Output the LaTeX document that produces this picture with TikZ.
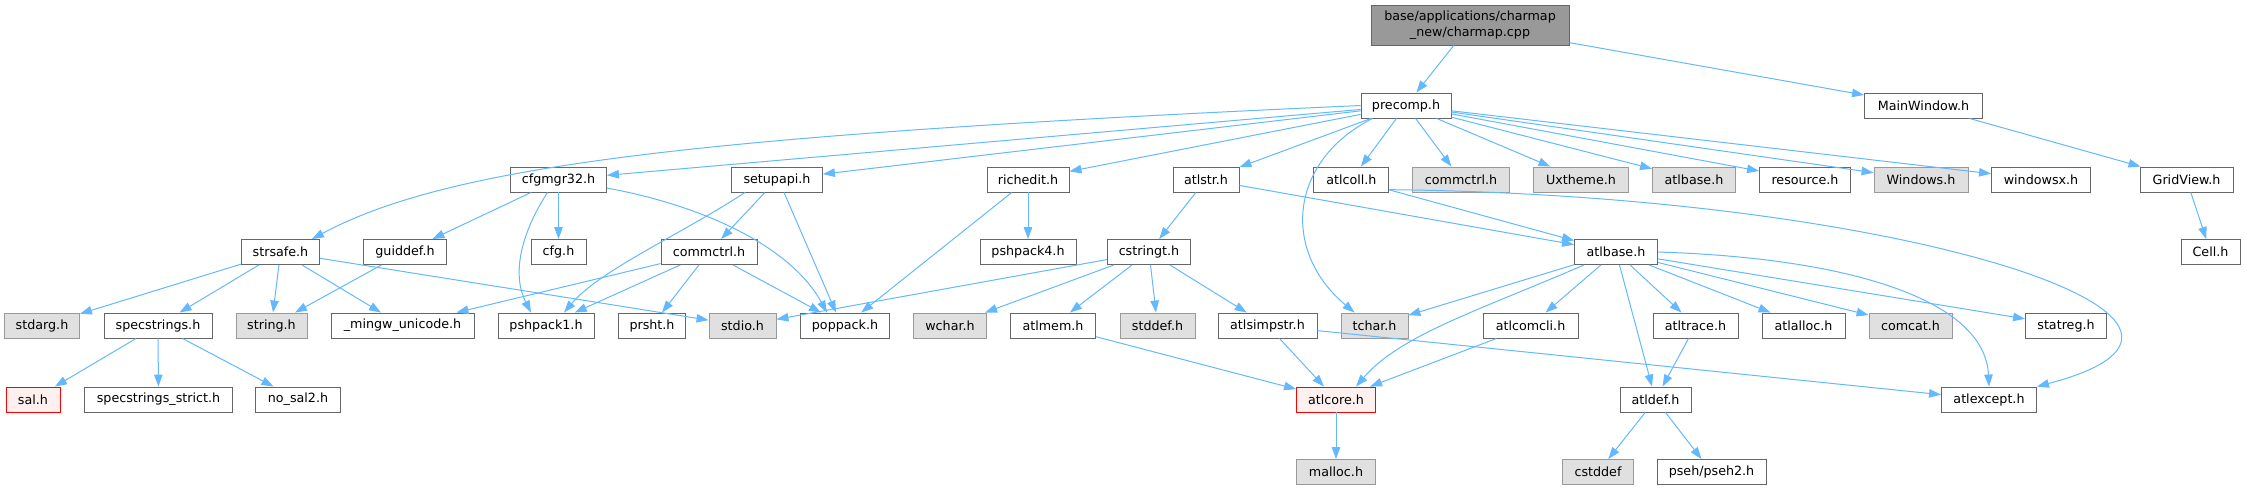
\documentclass[tikz,border=0pt]{standalone}
\usepackage{fontspec}
\setmainfont{DejaVu Sans}
\usetikzlibrary{arrows.meta}
\definecolor{incblue}{HTML}{63B8FF}
\definecolor{boxgray}{HTML}{666666}
\definecolor{extgray}{HTML}{999999}
\definecolor{extfill}{HTML}{E0E0E0}
\definecolor{cutfill}{HTML}{FFF0F0}
\begin{document}
\begin{tikzpicture}[x=1pt,y=-1pt,
		hfile/.style={draw=boxgray,fill=white,line width=0.9pt,minimum width=#1pt,minimum height=25pt,inner sep=0pt,font=\fontsize{12.7}{15.5}\selectfont},
		hext/.style={hfile=#1,draw=extgray,fill=extfill},
		hcut/.style={hfile=#1,draw=red,fill=cutfill},
		hroot/.style={hfile=#1,fill=extgray,minimum height=40pt,align=center},
		inc/.style={incblue,line width=1pt,-{Triangle[length=12pt,width=8.5pt]}}]
		\useasboundingbox (0,0) rectangle (2245,491);
		% rows 0 and 1
		\node[hroot=198] (charmap) at (1470,25) {base/applications/charmap\\\_new/charmap.cpp};
		\node[hfile=90] (precomp) at (1406,105.5) {precomp.h};
		\node[hfile=118] (mainwin) at (1923.5,105.5) {MainWindow.h};
		% row 2
		\node[hfile=96] (cfgmgr) at (558.5,179.5) {cfgmgr32.h};
		\node[hfile=91] (setupapi) at (777,179.5) {setupapi.h};
		\node[hfile=82] (richedit) at (1028,179.5) {richedit.h};
		\node[hfile=66] (atlstr) at (1206,179.5) {atlstr.h};
		\node[hfile=75] (atlcoll) at (1351.4,179.5) {atlcoll.h};
		\node[hext=96.5] (commctrlx) at (1461,179.5) {commctrl.h};
		\node[hext=95] (uxtheme) at (1581,179.5) {Uxtheme.h};
		\node[hext=83] (atlbasex) at (1694,179.5) {atlbase.h};
		\node[hfile=91] (resource) at (1805,179.5) {resource.h};
		\node[hext=94] (windowsh) at (1921,179.5) {Windows.h};
		\node[hfile=99] (windowsx) at (2041,179.5) {windowsx.h};
		\node[hfile=93] (gridview) at (2186.5,179.5) {GridView.h};
		% row 3
		\node[hfile=78] (strsafe) at (280.5,252) {strsafe.h};
		\node[hfile=83] (guiddef) at (405,252) {guiddef.h};
		\node[hfile=55] (cfg) at (558.5,252) {cfg.h};
		\node[hfile=96] (commctrl) at (709,252) {commctrl.h};
		\node[hfile=96] (pshfour) at (1028,252) {pshpack4.h};
		\node[hfile=83] (cstringt) at (1149,252) {cstringt.h};
		\node[hfile=83] (atlbase) at (1616,252) {atlbase.h};
		\node[hfile=59] (cell) at (2210.5,252) {Cell.h};
		% row 4
		\node[hext=75] (stdarg) at (42,325.5) {stdarg.h};
		\node[hfile=108] (specstr) at (158,325.5) {specstrings.h};
		\node[hext=71] (stringh) at (271.5,325.5) {string.h};
		\node[hfile=143] (mingw) at (402.5,325.5) {\_mingw\_unicode.h};
		\node[hfile=96] (pshone) at (546,325.5) {pshpack1.h};
		\node[hfile=67] (prsht) at (652,325.5) {prsht.h};
		\node[hext=67] (stdio) at (742.5,325.5) {stdio.h};
		\node[hfile=89] (poppack) at (845,325.5) {poppack.h};
		\node[hext=73] (wchar) at (950,325.5) {wchar.h};
		\node[hfile=85] (atlmem) at (1053,325.5) {atlmem.h};
		\node[hext=75] (stddef) at (1157.5,325.5) {stddef.h};
		\node[hfile=99] (simpstr) at (1267.5,325.5) {atlsimpstr.h};
		\node[hext=67] (tchar) at (1374.5,325.5) {tchar.h};
		\node[hfile=95] (comcli) at (1530.5,325.5) {atlcomcli.h};
		\node[hfile=85] (atltrace) at (1695.5,325.5) {atltrace.h};
		\node[hfile=83] (atlalloc) at (1803.5,325.5) {atlalloc.h};
		\node[hext=83] (comcat) at (1910.5,325.5) {comcat.h};
		\node[hfile=81] (statreg) at (2066,325.5) {statreg.h};
		% rows 5 and 6
		\node[hcut=54] (sal) at (33,399.5) {sal.h};
		\node[hfile=148] (strict) at (158.5,399.5) {specstrings\_strict.h};
		\node[hfile=85] (nosal) at (298,399.5) {no\_sal2.h};
		\node[hcut=79] (atlcore) at (1336,399.5) {atlcore.h};
		\node[hfile=71] (atldef) at (1655.5,399.5) {atldef.h};
		\node[hfile=95] (atlexcept) at (1989,399.5) {atlexcept.h};
		\node[hext=79] (malloc) at (1336,472) {malloc.h};
		\node[hext=71] (cstddef) at (1598,472) {cstddef};
		\node[hfile=109] (pseh) at (1711.5,472) {pseh/pseh2.h};

		\draw[inc] (charmap) -- (precomp);
		\draw[inc] (charmap) -- (mainwin);
		\draw[inc] (mainwin) -- (gridview);
		\draw[inc] (gridview) -- (cell);
		\path[inc] (precomp) edge (cfgmgr) edge (setupapi) edge (richedit) edge (atlstr) edge (atlcoll)
			edge (commctrlx) edge (uxtheme) edge (atlbasex) edge (resource) edge (windowsh) edge (windowsx);
		\draw[inc] (precomp.west) .. controls (700,135) and (450,165) .. ([xshift=-8pt]strsafe.north east);
		\draw[inc] ([xshift=12pt]precomp.south west) .. controls (1290,160) and (1280,250) .. ([xshift=-20pt]tchar.north);
		\path[inc] (cfgmgr) edge (guiddef) edge (cfg);
		\draw[inc] ([xshift=-11pt]cfgmgr.south) .. controls (520,235) and (512,275) .. ([xshift=-15pt]pshone.north);
		\draw[inc] (cfgmgr.-10) .. controls (700,205) and (790,245) .. ([xshift=-18pt]poppack.north);
		\draw[inc] (setupapi) -- (commctrl);
		\draw[inc] ([xshift=14pt]setupapi.south west) .. controls (680,235) and (600,270) .. ([xshift=18pt]pshone.north);
		\draw[inc] ([xshift=7pt]setupapi.south) -- ([xshift=-9pt]poppack.north);
		\path[inc] (richedit) edge (pshfour) edge (poppack);
		\path[inc] (atlstr) edge (cstringt) edge (atlbase);
		\draw[inc] (atlcoll) -- (atlbase);
		\draw[inc] (atlcoll.-15) .. controls (1900,195) and (2290,320) .. (atlexcept.north east);
		\path[inc] (strsafe) edge (stdarg) edge (specstr) edge (stringh) edge (mingw) edge (stdio);
		\draw[inc] (guiddef) -- (stringh);
		\path[inc] (commctrl) edge (mingw) edge (pshone) edge (prsht) edge (poppack);
		\path[inc] (cstringt) edge (stdio) edge (wchar) edge (atlmem) edge (stddef) edge (simpstr);
		\path[inc] (specstr) edge (sal) edge (strict) edge (nosal);
		\path[inc] (atlbase) edge (tchar) edge (comcli) edge (atldef) edge (atltrace) edge (atlalloc) edge (comcat) edge (statreg);
		\draw[inc] ([xshift=10pt]atlbase.south west) .. controls (1480,310) and (1400,335) .. ([xshift=20pt]atlcore.north);
		\draw[inc] (atlbase.east) .. controls (1850,258) and (1985,300) .. (atlexcept.north);
		\draw[inc] (comcli) -- (atlcore);
		\draw[inc] (atltrace) -- (atldef);
		\path[inc] (simpstr) edge (atlcore) edge (atlexcept);
		\draw[inc] (atlmem) -- (atlcore);
		\draw[inc] (atlcore) -- (malloc);
		\path[inc] (atldef) edge (cstddef) edge (pseh);
	\end{tikzpicture}
\end{document}
